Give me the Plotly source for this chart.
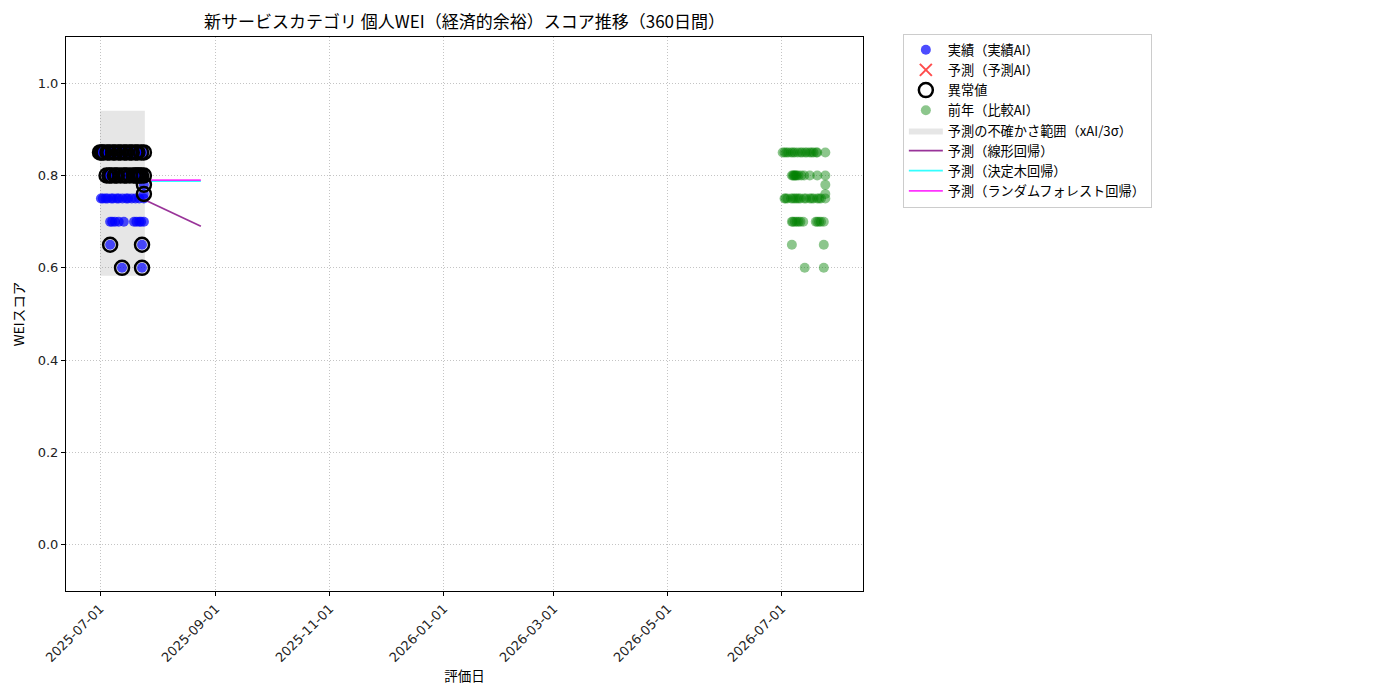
import plotly.graph_objects as go

FONT = "Noto Sans CJK JP, Noto Sans, sans-serif"
TICK_FONT = "DejaVu Sans, Noto Sans CJK JP, sans-serif"

TITLE = "新サービスカテゴリ 個人WEI（経済的余裕）スコア推移（360日間）"

# ---- actual (実績AI) ----
actual_dates = [
    # 0.85
    "2025-07-01", "2025-07-02", "2025-07-03", "2025-07-05", "2025-07-06", "2025-07-08",
    "2025-07-09", "2025-07-11", "2025-07-12", "2025-07-14", "2025-07-15", "2025-07-17",
    "2025-07-18", "2025-07-20", "2025-07-21", "2025-07-23", "2025-07-24 12:00",
    # 0.80
    "2025-07-04 12:00", "2025-07-06", "2025-07-07", "2025-07-09", "2025-07-10", "2025-07-12",
    "2025-07-14", "2025-07-15", "2025-07-17", "2025-07-19", "2025-07-20", "2025-07-21",
    "2025-07-22", "2025-07-23", "2025-07-24 12:00",
    # 0.78 / 0.76
    "2025-07-24 12:00", "2025-07-24 12:00",
    # 0.75
    "2025-07-01 12:00", "2025-07-02 12:00", "2025-07-04", "2025-07-05", "2025-07-07",
    "2025-07-08", "2025-07-10", "2025-07-11", "2025-07-13", "2025-07-15", "2025-07-16",
    "2025-07-18", "2025-07-20", "2025-07-22", "2025-07-24 12:00",
    # 0.70
    "2025-07-06 10:00", "2025-07-07 12:00", "2025-07-09", "2025-07-11", "2025-07-13 18:00",
    "2025-07-19 05:00", "2025-07-20 12:00", "2025-07-22", "2025-07-23", "2025-07-24 12:00",
    # 0.65
    "2025-07-06 10:00", "2025-07-23 12:00",
    # 0.60
    "2025-07-12 19:00", "2025-07-23 12:00",
]
actual_values = [
    0.85, 0.85, 0.85, 0.85, 0.85, 0.85, 0.85, 0.85, 0.85, 0.85, 0.85, 0.85, 0.85, 0.85, 0.85, 0.85, 0.85,
    0.80, 0.80, 0.80, 0.80, 0.80, 0.80, 0.80, 0.80, 0.80, 0.80, 0.80, 0.80, 0.80, 0.80, 0.80,
    0.78, 0.76,
    0.75, 0.75, 0.75, 0.75, 0.75, 0.75, 0.75, 0.75, 0.75, 0.75, 0.75, 0.75, 0.75, 0.75, 0.75,
    0.70, 0.70, 0.70, 0.70, 0.70, 0.70, 0.70, 0.70, 0.70, 0.70,
    0.65, 0.65,
    0.60, 0.60,
]

# ---- anomalies (異常値) ----
anomaly_dates = [
    "2025-07-01", "2025-07-02", "2025-07-03", "2025-07-05", "2025-07-06", "2025-07-08",
    "2025-07-09", "2025-07-11", "2025-07-12", "2025-07-14", "2025-07-15", "2025-07-17",
    "2025-07-18", "2025-07-20", "2025-07-21", "2025-07-23", "2025-07-24 12:00",
    "2025-07-04 12:00", "2025-07-06", "2025-07-07", "2025-07-09", "2025-07-10", "2025-07-12",
    "2025-07-14", "2025-07-15", "2025-07-17", "2025-07-19", "2025-07-20", "2025-07-21",
    "2025-07-22", "2025-07-23", "2025-07-24 12:00",
    "2025-07-24 12:00", "2025-07-24 12:00",
    "2025-07-06 10:00", "2025-07-23 12:00",
    "2025-07-12 19:00", "2025-07-23 12:00",
]
anomaly_values = [
    0.85, 0.85, 0.85, 0.85, 0.85, 0.85, 0.85, 0.85, 0.85, 0.85, 0.85, 0.85, 0.85, 0.85, 0.85, 0.85, 0.85,
    0.80, 0.80, 0.80, 0.80, 0.80, 0.80, 0.80, 0.80, 0.80, 0.80, 0.80, 0.80, 0.80, 0.80, 0.80,
    0.78, 0.76,
    0.65, 0.65,
    0.60, 0.60,
]

# ---- previous year (比較AI) ----
prev_dates = [
    # 0.85
    "2026-07-01 12:00", "2026-07-02 12:00", "2026-07-03 12:00", "2026-07-04 12:00", "2026-07-06",
    "2026-07-07", "2026-07-08", "2026-07-09 12:00", "2026-07-11", "2026-07-12", "2026-07-13 12:00",
    "2026-07-14 12:00", "2026-07-16", "2026-07-17", "2026-07-18", "2026-07-19 12:00",
    "2026-07-20", "2026-07-24 08:00",
    # 0.80
    "2026-07-06 10:00", "2026-07-07", "2026-07-07 12:00", "2026-07-08", "2026-07-08 12:00",
    "2026-07-09", "2026-07-10", "2026-07-11 12:00", "2026-07-13", "2026-07-16", "2026-07-20",
    "2026-07-24 08:00",
    # 0.78 / 0.76
    "2026-07-24 08:00", "2026-07-24 08:00",
    # 0.75
    "2026-07-02 12:00", "2026-07-03", "2026-07-04", "2026-07-06", "2026-07-07", "2026-07-08",
    "2026-07-09", "2026-07-10", "2026-07-11", "2026-07-13", "2026-07-14", "2026-07-16",
    "2026-07-17", "2026-07-18", "2026-07-20", "2026-07-21", "2026-07-22", "2026-07-24 08:00",
    # 0.70
    "2026-07-06 10:00", "2026-07-07", "2026-07-08", "2026-07-09", "2026-07-10", "2026-07-11",
    "2026-07-12 12:00", "2026-07-19 05:00", "2026-07-20", "2026-07-21", "2026-07-22",
    "2026-07-23 12:00",
    # 0.65
    "2026-07-06 10:00", "2026-07-23 12:00",
    # 0.60
    "2026-07-13 07:00", "2026-07-23 12:00",
]
prev_values = [
    0.85, 0.85, 0.85, 0.85, 0.85, 0.85, 0.85, 0.85, 0.85, 0.85, 0.85, 0.85, 0.85, 0.85, 0.85, 0.85, 0.85, 0.85,
    0.80, 0.80, 0.80, 0.80, 0.80, 0.80, 0.80, 0.80, 0.80, 0.80, 0.80, 0.80,
    0.78, 0.76,
    0.75, 0.75, 0.75, 0.75, 0.75, 0.75, 0.75, 0.75, 0.75, 0.75, 0.75, 0.75, 0.75, 0.75, 0.75, 0.75, 0.75, 0.75,
    0.70, 0.70, 0.70, 0.70, 0.70, 0.70, 0.70, 0.70, 0.70, 0.70, 0.70, 0.70,
    0.65, 0.65,
    0.60, 0.60,
]

# ---- uncertainty band (xAI / 3σ) ----
band_dates = ["2025-07-01", "2025-07-25"]
band_upper = [0.94, 0.94]
band_lower = [0.583, 0.583]

# ---- forecasts ----
forecast_dates = ["2025-07-24 12:00", "2025-08-24"]
linear_values = [0.748, 0.690]
tree_values = [0.788, 0.788]
forest_values = [0.790, 0.790]

# ---- axes ----
x_tick_vals = ["2025-07-01", "2025-09-01", "2025-11-01", "2026-01-01",
               "2026-03-01", "2026-05-01", "2026-07-01"]
x_tick_text = ["2025-07-01", "2025-09-01", "2025-11-01", "2026-01-01",
               "2026-03-01", "2026-05-01", "2026-07-01"]
y_tick_vals = [0.0, 0.2, 0.4, 0.6, 0.8, 1.0]
y_tick_text = ["0.0", "0.2", "0.4", "0.6", "0.8", "1.0"]
x_range = ["2025-06-12 19:00", "2026-08-13 12:00"]
y_range = [-0.1, 1.1]

# page has an 8px body margin, so the figure is sized to fit inside it
W, H = 1384, 684

fig = go.Figure()

# band
fig.add_trace(go.Scatter(
    x=band_dates, y=band_lower, mode="lines", line=dict(width=0),
    showlegend=False, hoverinfo="skip"))
fig.add_trace(go.Scatter(
    x=band_dates, y=band_upper, mode="lines", line=dict(width=0),
    fill="tonexty", fillcolor="rgba(128,128,128,0.2)",
    name="予測の不確かさ範囲（xAI/3σ）", legendrank=5))

fig.add_trace(go.Scatter(
    x=actual_dates, y=actual_values, mode="markers",
    marker=dict(color="rgba(0,0,255,0.7)", size=10, line=dict(width=0)),
    name="実績（実績AI）", legendrank=1))

fig.add_trace(go.Scatter(
    x=[None], y=[None], mode="markers",
    marker=dict(color="rgba(255,0,0,0.7)", size=12, symbol="x-thin",
                line=dict(width=2, color="rgba(255,0,0,0.7)")),
    name="予測（予測AI）", legendrank=2))

fig.add_trace(go.Scatter(
    x=forecast_dates, y=linear_values, mode="lines",
    line=dict(color="rgba(128,0,128,0.8)", width=1.8),
    name="予測（線形回帰）", legendrank=6))
fig.add_trace(go.Scatter(
    x=forecast_dates, y=tree_values, mode="lines",
    line=dict(color="rgba(0,255,255,0.8)", width=1.8),
    name="予測（決定木回帰）", legendrank=7))
fig.add_trace(go.Scatter(
    x=forecast_dates, y=forest_values, mode="lines",
    line=dict(color="rgba(255,0,255,0.8)", width=1.8),
    name="予測（ランダムフォレスト回帰）", legendrank=8))

fig.add_trace(go.Scatter(
    x=anomaly_dates, y=anomaly_values, mode="markers",
    marker=dict(color="black", size=14, symbol="circle-open", line=dict(width=2.5, color="black")),
    name="異常値", legendrank=3))

fig.add_trace(go.Scatter(
    x=prev_dates, y=prev_values, mode="markers",
    marker=dict(color="rgba(0,128,0,0.45)", size=10, line=dict(width=0)),
    name="前年（比較AI）", legendrank=4))

axis_common = dict(
    showline=True, linecolor="black", linewidth=1, mirror=True,
    ticks="outside", ticklen=4, tickcolor="black",
    showgrid=True, gridcolor="#c4c4c4", griddash="1px,2px", gridwidth=1,
    zeroline=False, tickfont=dict(size=13, color="#222222", family=TICK_FONT),
    automargin=False,
)

fig.update_layout(
    width=W, height=H,
    paper_bgcolor="white", plot_bgcolor="white",
    font=dict(family=FONT, color="black", size=13),
    margin=dict(l=58, r=529, t=29, b=101, autoexpand=False),
    title=dict(text=TITLE, x=0.5, xref="paper", xanchor="center",
               y=1 - 14 / H, yanchor="middle", automargin=False,
               font=dict(size=17, family=FONT, color="black")),
    xaxis=dict(axis_common, type="date", range=x_range,
               tickvals=x_tick_vals, ticktext=x_tick_text, tickangle=-45,
               title=dict(text="評価日", font=dict(size=13.5), standoff=4)),
    yaxis=dict(axis_common, range=y_range, tickvals=y_tick_vals, ticktext=y_tick_text,
               title=dict(text="WEIスコア", font=dict(size=13.5), standoff=10)),
    legend=dict(x=1.05, y=1.006, xanchor="left", yanchor="top",
                bordercolor="#cccccc", borderwidth=1, bgcolor="white",
                font=dict(size=13.2, family=FONT), tracegroupgap=0,
                traceorder="normal", itemsizing="trace", itemwidth=34),
    showlegend=True,
)

fig.write_html("out.html")
